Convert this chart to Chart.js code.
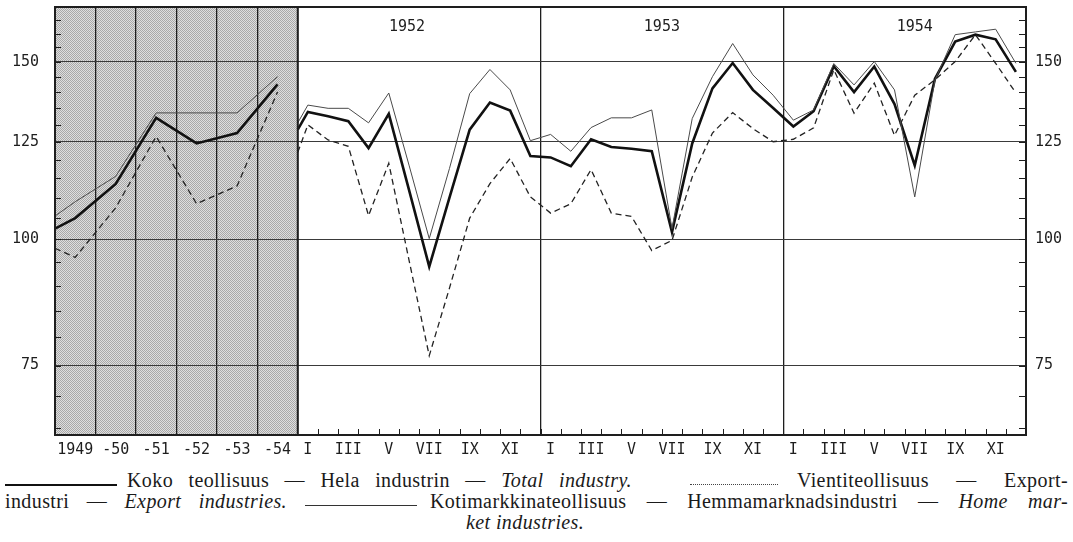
<!DOCTYPE html>
<html>
<head>
<meta charset="utf-8">
<script src="https://cdn.jsdelivr.net/npm/chart.js@4.4.1/dist/chart.umd.min.js"></script>
<style>
  body { margin: 0; background: #fff; width: 1073px; height: 542px; overflow: hidden; position: relative; }
  #chart { position: absolute; left: 0; top: 0; }
  .leg { position: absolute; font-family: "Liberation Serif", serif; font-size: 20px; letter-spacing: 0.4px; color: #1a1a1a; white-space: nowrap; line-height: 20px; }
  .just { text-align: justify; text-align-last: justify; white-space: normal; }
  .leg i { font-style: italic; }
  .sample { position: absolute; height: 0; }
</style>
</head>
<body>
<canvas id="chart" width="1073" height="460"></canvas>

<div class="sample" style="left:5px; top:484px; width:112px; border-top:2.5px solid #111;"></div>
<div class="leg just" style="left:127px; top:470px; width:505px;">Koko teollisuus — Hela industrin — <i>Total industry.</i></div>
<div class="sample" style="left:690px; top:484px; width:88px; border-top:1px dotted #444;"></div>
<div class="leg just" style="left:797px; top:470px; width:271px;">Vientiteollisuus — Export-</div>

<div class="leg just" style="left:5px; top:491px; width:282px;">industri — <i>Export industries.</i></div>
<div class="sample" style="left:305px; top:505px; width:112px; border-top:1px solid #333;"></div>
<div class="leg just" style="left:430px; top:491px; width:638px;">Kotimarkkinateollisuus — Hemmamarknadsindustri — <i>Home mar-</i></div>

<div class="leg" style="left:466px; top:512px;"><i>ket industries.</i></div>

<script>
// Vuosiosa (1949-54) ja kuukausiosa (1952-54)
const years = ['1949', '-50', '-51', '-52', '-53', '-54'];
const monthNames = ['I', '', 'III', '', 'V', '', 'VII', '', 'IX', '', 'XI', ''];
const monthYears = ['1952', '1953', '1954'];
const yTicks = [75, 100, 125, 150];

// arvo vasemmassa reunassa + vuosiarvot
const totalAnnualStart = 102.5;
const exportAnnualStart = 98;
const homeAnnualStart = 105.5;
const totalAnnual = [105, 113.5, 132, 124.5, 127.5, 142.5];
const exportAnnual = [96, 107.5, 126.5, 108.5, 113, 140];
const homeAnnual = [109, 115.5, 133.5, 133.5, 133.5, 145];

// kuukausiosan alkuarvot (XII/1951) + kuukausiarvot
const totalMonthlyStart = 128.5;
const exportMonthlyStart = 122;
const homeMonthlyStart = 130.5;
const totalMonthly = [
  133.8, 132.5, 131, 123.2, 133.2, 112, 94, 110, 128.5, 136.7, 134.2, 121,
  120.6, 118.2, 125.7, 123.5, 123, 122.3, 101.7, 124.5, 141.2, 149.6, 140.7, 135,
  129.4, 134, 148.5, 140, 148.4, 136.2, 118.4, 144.3, 157.1, 159.6, 157.9, 146.6
];
const exportMonthly = [
  129.9, 125.5, 123.7, 105.6, 119, 95.4, 76.7, 89.5, 105, 113.6, 120.3, 110.2,
  106.2, 108.5, 117.3, 106.2, 105.4, 97.5, 99.8, 115.3, 127.5, 133.6, 128.8, 125,
  125.7, 129, 147.3, 133.4, 142.9, 126.8, 139, 144, 150.1, 159.6, 149.5, 139.7
];
const homeMonthly = [
  135.9, 134.9, 134.9, 130.5, 139.7, 118.5, 100.2, 117.6, 139.5, 147.4, 140.7, 125.3,
  127.1, 122.3, 129.1, 132, 132, 134.4, 102.5, 131.8, 145, 156.4, 145.6, 139,
  131.3, 134.4, 149.4, 142.3, 150.1, 140.7, 110.2, 143.9, 159.6, 160.6, 161.6, 149.5
];

// x-akseli: vuosiosa 0..12 (2 yksikköä/vuosi), kuukaudet 12..48
const annualWidth = 12;
const xMax = annualWidth + totalMonthly.length;

function annualPoints(start, values) {
  return [{ x: 0, y: start }].concat(values.map((v, i) => ({ x: 2 * i + 1, y: v })));
}
function monthlyPoints(start, values) {
  return [{ x: annualWidth, y: start }].concat(values.map((v, i) => ({ x: annualWidth + i + 0.5, y: v })));
}

// tunnisteet x-akselille
const labelMap = {};
years.forEach((y, i) => { labelMap[2 * i + 1] = y; });
for (let i = 0; i < totalMonthly.length; i++) {
  const name = monthNames[i % 12];
  if (name) labelMap[annualWidth + i + 0.5] = name;
}

const gridX = [];
for (let v = 0; v <= annualWidth; v += 2) gridX.push(v);
for (let v = annualWidth + 12; v <= xMax; v += 12) gridX.push(v);

const tickFont = { family: 'DejaVu Sans Mono', size: 15 };
const ink = '#1e1e1e';

const styles = {
  total: { borderColor: '#111', borderWidth: 2.6, borderDash: [] },
  exp: { borderColor: '#222', borderWidth: 1.3, borderDash: [6, 4] },
  home: { borderColor: '#4a4a4a', borderWidth: 1, borderDash: [] }
};

function ds(data, st) {
  return Object.assign({ data: data, pointRadius: 0, tension: 0, fill: false, xAxisID: 'x', yAxisID: 'y' }, st);
}

// harmaa rasteri vuosiosan taustaksi
function shadePattern(ctx) {
  const c = document.createElement('canvas');
  c.width = 2; c.height = 2;
  const p = c.getContext('2d');
  p.fillStyle = '#dedede'; p.fillRect(0, 0, 2, 2);
  p.fillStyle = '#a8a8a8'; p.fillRect(0, 0, 1, 1); p.fillRect(1, 1, 1, 1);
  return ctx.createPattern(c, 'repeat');
}

function noPadV(axis, w) {
  axis.width = w;
  axis.paddingTop = 0;
  axis.paddingBottom = 0;
}
function noPadH(axis, h) {
  axis.height = h;
  axis.paddingLeft = 0;
  axis.paddingRight = 0;
}

const decor = {
  id: 'decor',
  beforeDraw(chart) {
    const { ctx, chartArea: a, scales } = chart;
    const x0 = scales.x.getPixelForValue(annualWidth);
    ctx.save();
    ctx.fillStyle = shadePattern(ctx);
    ctx.fillRect(a.left, a.top, x0 - a.left, a.bottom - a.top);
    ctx.restore();
  },
  afterDatasetsDraw(chart) {
    const { ctx, chartArea: a, scales } = chart;
    ctx.save();
    ctx.strokeStyle = ink;
    ctx.lineWidth = 1;
    // pienet jakoviivat 5 yksikön välein
    for (let v = 65; v <= 165; v += 5) {
      const py = Math.round(scales.y.getPixelForValue(v)) + 0.5;
      ctx.beginPath();
      ctx.moveTo(a.left, py); ctx.lineTo(a.left + 6, py);
      ctx.moveTo(a.right - 7, py); ctx.lineTo(a.right, py);
      ctx.stroke();
    }
    // kuukausijaot alareunassa
    for (let m = annualWidth + 1; m < xMax; m++) {
      const px = Math.round(scales.x.getPixelForValue(m)) + 0.5;
      ctx.beginPath();
      ctx.moveTo(px, a.bottom); ctx.lineTo(px, a.bottom - 6);
      ctx.stroke();
    }
    // kehys
    ctx.lineWidth = 2;
    ctx.strokeRect(a.left, a.top, a.right - a.left, a.bottom - a.top);
    const x0 = scales.x.getPixelForValue(annualWidth);
    ctx.beginPath(); ctx.moveTo(x0, a.top); ctx.lineTo(x0, a.bottom); ctx.stroke();
    // vuosiotsikot
    ctx.fillStyle = ink;
    ctx.font = '15px "DejaVu Sans Mono"';
    ctx.textAlign = 'center';
    ctx.textBaseline = 'middle';
    const titleX = [17.4, 30, 42.5];
    monthYears.forEach((t, i) => {
      ctx.fillText(t, scales.x.getPixelForValue(titleX[i]), a.top + 20);
    });
    ctx.restore();
  }
};

new Chart(document.getElementById('chart'), {
  type: 'line',
  data: {
    datasets: [
      ds(annualPoints(homeAnnualStart, homeAnnual), styles.home),
      ds(annualPoints(exportAnnualStart, exportAnnual), styles.exp),
      ds(annualPoints(totalAnnualStart, totalAnnual), styles.total),
      ds(monthlyPoints(homeMonthlyStart, homeMonthly), styles.home),
      ds(monthlyPoints(exportMonthlyStart, exportMonthly), styles.exp),
      ds(monthlyPoints(totalMonthlyStart, totalMonthly), styles.total)
    ]
  },
  options: {
    responsive: false,
    animation: false,
    devicePixelRatio: 1,
    layout: { padding: { top: 7, left: 0, right: 0, bottom: 0 } },
    plugins: { legend: { display: false }, tooltip: { enabled: false } },
    scales: {
      x: {
        type: 'linear', position: 'bottom', min: 0, max: xMax,
        afterBuildTicks: axis => { axis.ticks = gridX.map(v => ({ value: v })); },
        afterFit: axis => noPadH(axis, 0),
        ticks: { display: false },
        grid: { color: ink, lineWidth: 1.3, drawTicks: false },
        border: { display: false }
      },
      xl: {
        type: 'linear', position: 'bottom', min: 0, max: xMax,
        afterBuildTicks: axis => { axis.ticks = Object.keys(labelMap).map(v => ({ value: +v })); },
        afterFit: axis => noPadH(axis, 25),
        ticks: {
          autoSkip: false, maxRotation: 0, padding: 6, color: ink, font: tickFont,
          callback: v => labelMap[v] || ''
        },
        grid: { display: false, drawTicks: false },
        border: { display: false }
      },
      y: {
        type: 'logarithmic', position: 'left', min: 64, max: 170,
        afterBuildTicks: axis => { axis.ticks = yTicks.map(v => ({ value: v })); },
        afterFit: axis => noPadV(axis, 55),
        ticks: { padding: 16, color: ink, font: tickFont, callback: v => String(v) },
        grid: { color: '#3a3a3a', lineWidth: 1, drawTicks: false },
        border: { display: false }
      },
      y2: {
        type: 'logarithmic', position: 'right', min: 64, max: 170,
        afterBuildTicks: axis => { axis.ticks = yTicks.map(v => ({ value: v })); },
        afterFit: axis => noPadV(axis, 47),
        ticks: { padding: 9, color: ink, font: tickFont, callback: v => String(v) },
        grid: { display: false, drawTicks: false },
        border: { display: false }
      }
    }
  },
  plugins: [decor]
});
</script>
</body>
</html>
